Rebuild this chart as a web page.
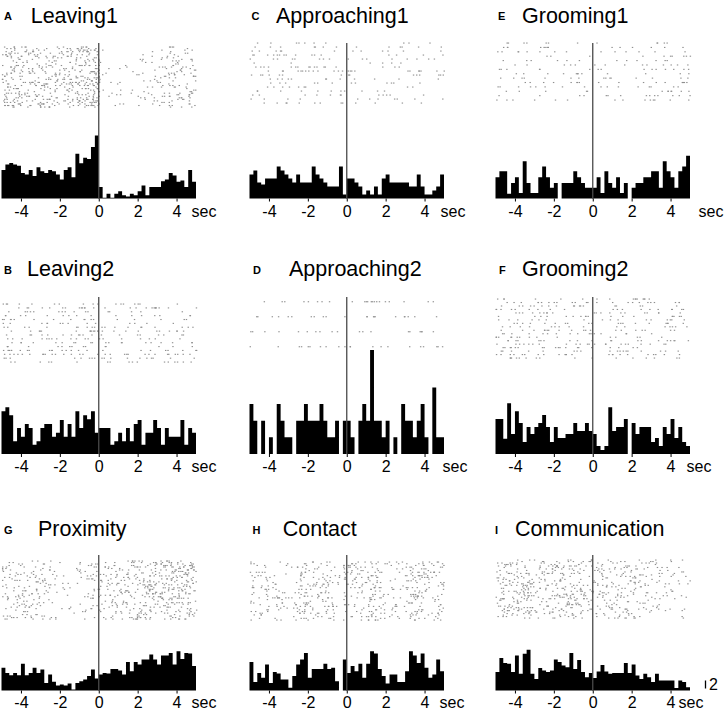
<!DOCTYPE html>
<html>
<head>
<meta charset="utf-8">
<script src="https://cdn.jsdelivr.net/npm/d3@7"></script>
<style>
  body { margin: 0; background: #fff; }
  svg { display: block; }
  text { font-family: "Liberation Sans", Arial, sans-serif; }
</style>
</head>
<body>
<div id="wrapper"></div>
<script>
// panel letters / titles, in the order A..I
const panelLetters = ["A", "B", "C", "D", "E", "F", "G", "H", "I"];
const panelTitles = ["Leaving1", "Leaving2", "Approaching1", "Approaching2",
  "Grooming1", "Grooming2", "Proximity", "Contact", "Communication"];
const tickValues = [-4, -2, 0, 2, 4];
const timeRange = [-5, 5];
const binWidth = 0.2; // sec
const scaleBarValue = 2;
// number of trials in each raster
const trialCounts = [40, 16, 16, 4, 14, 18, 40, 35, 40];

// PSTH values (50 bins of 0.2 s, -5..5 s)
const leaving1 = [7.1, 8.5, 8.9, 8.5, 8.2, 6.4, 6.0, 7.1, 5.6, 7.8,
  6.8, 6.4, 7.1, 6.8, 6.0, 4.75, 7.1, 7.8, 5.3, 11.2,
  8.8, 10.2, 9.9, 12.9, 15.75, 2.9, 0.2, 1.2, 0.2, 1.2,
  1.8, 0.8, 0.5, 1.2, 0.8, 1.8, 3.25, 0.8, 2.9, 2.9,
  2.9, 4.3, 4.75, 6.4, 5.75, 4.2, 4.5, 2.9, 7.1, 4.2];
const leaving2 = [10.7, 11.7, 9.7, 3.2, 6.5, 4.3, 7.5, 6.5, 2.3, 3.2,
  6.5, 7.5, 7.5, 4.3, 5.3, 8.5, 4.3, 7.5, 4.3, 10.7,
  6.5, 9.7, 8.7, 10.7, 5.3, 6.5, 6.5, 6.5, 2.3, 3.2,
  5.3, 3.2, 6.5, 3.2, 7.5, 8.5, 2.3, 5.3, 5.3, 8.5,
  6.5, 2.3, 6.5, 4.3, 4.3, 4.3, 8.5, 2.3, 6.5, 5.3];
const approaching1 = [6, 7, 4, 3.5, 5, 5, 5, 8, 7, 6,
  5, 4, 6, 4, 4, 4, 8, 6, 5, 4,
  3, 3, 3, 8, 1, 5, 5, 4, 3, 1,
  2, 1, 3, 1, 5, 6, 4, 4, 4, 4,
  4, 3, 3, 6, 3, 1, 1, 2, 3, 6];
const approaching2 = [12.5, 8.3, 0, 8.3, 0, 4.2, 0, 12.5, 8.3, 4.2,
  4.2, 0, 8.3, 8.3, 12.5, 8.3, 8.3, 8.3, 12.5, 8.3,
  4.2, 4.2, 8.3, 0, 8.3, 8.3, 4.2, 0, 8.3, 12.5,
  8.3, 26, 8.3, 8.3, 4.2, 8.3, 0, 4.2, 0, 12.5,
  8.3, 8.3, 4.2, 8.3, 12.5, 4.2, 0, 16.6, 4.2, 4.2];
const grooming1 = [5.3, 6.8, 6.8, 1.2, 3.9, 5.3, 1.4, 9.3, 3.9, 1.4,
  1.4, 5.3, 8, 5.3, 2.7, 3.9, 0, 3.9, 3.9, 3.9,
  6.8, 5.3, 3.9, 2.7, 2.7, 2.7, 5.3, 1.4, 6.8, 3.9,
  2.7, 5.3, 1.4, 3.9, 0, 2.7, 3.9, 3.9, 5.3, 5.3,
  6.8, 6.8, 2.7, 9.3, 6.8, 5.3, 2.7, 6.8, 8, 10.7];
const grooming2 = [8.75, 8.75, 3.8, 12.7, 5, 10.7, 7.75, 3, 6.75, 5,
  6.75, 7.75, 9.75, 6.75, 3, 6.75, 4, 4, 5, 5,
  7.75, 5.75, 5.75, 7.75, 5.75, 5, 2, 1, 2, 11.7,
  5.75, 6.75, 6.75, 8.75, 0, 7.75, 5, 6.75, 6.75, 6.75,
  3, 4, 2, 6.75, 5, 8.75, 4, 6.75, 3, 2];
const proximity = [5.7, 4.4, 3.8, 4.4, 3.8, 6.7, 3.8, 4.4, 5.7, 4.4,
  5.25, 1.9, 4, 2.2, 1.25, 1.5, 1.25, 1.75, 0.25, 1.9,
  2.3, 2.75, 3.6, 5.25, 3, 4, 4.4, 4.25, 5.4, 5.4,
  5, 4, 7.1, 4.8, 7.1, 6.5, 7.75, 7.75, 9, 7.75,
  6.5, 8.75, 8.75, 9.4, 6.5, 9.8, 7.9, 9.4, 9.25, 6.1];
const contact = [7.1, 2.1, 4.4, 3.2, 6.5, 1.9, 4.6, 4.25, 2.75, 2.75,
  0.7, 3.6, 6.5, 7.75, 9.4, 3.2, 5.4, 5.4, 5.4, 6.7,
  5.4, 5.7, 2.3, 0, 7.75, 4.4, 6.1, 4.8, 6.7, 3.2,
  6.7, 9.8, 9.25, 5.4, 3.6, 1.75, 4, 4, 2.1, 2.1,
  4.8, 9.8, 8.75, 6.9, 9.25, 5.7, 3.2, 4, 7.75, 4.8];
const communication = [4.6, 8.1, 6.9, 6.7, 4.6, 8.75, 4.2, 9.2, 10.2, 4.2,
  2.9, 5.6, 5, 4.6, 5, 7.75, 7.1, 6.25, 5.8, 9.4,
  5.4, 7.6, 4.6, 3.3, 4.4, 3.1, 4.75, 6.4, 4.75, 4.2,
  4.4, 4.4, 4.4, 6.9, 4.4, 6.5, 3.75, 2.9, 4.2, 3.3,
  2.1, 4.2, 2.5, 2.5, 2.5, 2.5, 0.6, 2.5, 2.1, 0.8];

const panelValues = [leaving1, leaving2, approaching1, approaching2,
  grooming1, grooming2, proximity, contact, communication];

// fixed scatter of a spike inside its bin / trial (no randomness, same every run)
function spread(a, b, c) {
  const s = Math.sin(a * 12.9898 + b * 78.233 + c * 37.719) * 43758.5453;
  return s - Math.floor(s);
}

function drawPanels() {
  //1. Dimensions of the page and of each panel
  let dimensions = {
    width: 725,
    height: 712,
    panelWidth: 194.5,
    pxPerUnit: 4,
  };
  const colX = [1.5, 249.5, 495.5];
  const rowBase = [198.5, 454, 690.5];
  const rowTitle = [22.7, 276, 536];
  const rowLineTop = [43, 297, 555];

  // col, row, raster top/bottom, letter x, title x, "sec" offset
  const layout = [
    { col: 0, row: 0, r0: 47, r1: 107, lx: 4, tx: 30.7, sec: 15 },
    { col: 0, row: 1, r0: 304, r1: 362, lx: 4, tx: 27, sec: 15 },
    { col: 1, row: 0, r0: 43, r1: 103, lx: 251.5, tx: 276, sec: 16 },
    { col: 1, row: 1, r0: 301.7, r1: 346.7, lx: 253, tx: 289, sec: 18 },
    { col: 2, row: 0, r0: 43, r1: 100, lx: 498, tx: 522, sec: 28 },
    { col: 2, row: 1, r0: 299, r1: 358, lx: 499, tx: 522, sec: 16 },
    { col: 0, row: 2, r0: 561, r1: 619, lx: 4, tx: 38, sec: 15 },
    { col: 1, row: 2, r0: 562, r1: 620, lx: 252.5, tx: 282.7, sec: 15 },
    { col: 2, row: 2, r0: 560, r1: 618, lx: 495, tx: 515, sec: 8 },
  ];

  //2. Draw canvas
  const wrapper = d3
    .select("#wrapper")
    .append("svg")
    .attr("width", dimensions.width)
    .attr("height", dimensions.height);

  const edges = d3.range(panelValues[0].length + 1).map((i) => timeRange[0] + i * binWidth);

  panelValues.forEach((values, p) => {
    const lay = layout[p];
    const base = rowBase[lay.row];
    const labelY = lay.row === 2 ? base + 17.5 : base + 18.4;
    const g = wrapper.append("g");

    //3. Scales
    const xScale = d3
      .scaleLinear()
      .domain(timeRange)
      .range([colX[lay.col], colX[lay.col] + dimensions.panelWidth]);
    const yScale = d3
      .scaleLinear()
      .domain([0, 30])
      .range([base, base - 30 * dimensions.pxPerUnit]);

    //4. Title
    g.append("text")
      .attr("x", lay.lx)
      .attr("y", rowTitle[lay.row] - 2.5)
      .style("font-size", "11px")
      .style("font-weight", "bold")
      .text(panelLetters[p]);
    g.append("text")
      .attr("x", lay.tx)
      .attr("y", rowTitle[lay.row])
      .style("font-size", "21.5px")
      .text(panelTitles[p]);

    //5. Raster (spikes per bin follow the histogram value)
    const nTrials = trialCounts[p];
    const rowStep = (lay.r1 - lay.r0) / Math.max(1, nTrials - 1);
    const dots = [];
    values.forEach((v, b) => {
      const nSpikes = Math.round((v * nTrials) / 16);
      for (let k = 0; k < nSpikes; k++) {
        const u = spread(k + 1, b + 1, p + 1);
        const w = spread(b + 3.1, k + 7.7, p + 0.5);
        dots.push({ t: edges[b] + u * binWidth, trial: Math.min(nTrials - 1, Math.floor(w * nTrials)) });
      }
    });
    g.append("g")
      .selectAll("rect")
      .data(dots)
      .enter()
      .append("rect")
      .attr("x", (d) => xScale(d.t))
      .attr("y", (d) => lay.r0 + d.trial * rowStep - 0.5)
      .attr("width", 1.4)
      .attr("height", 1.1)
      .attr("fill", "#8f8f8f");

    //6. Histogram as one stepped area
    const stepData = values.concat([values[values.length - 1]]);
    const areaGenerator = d3
      .area()
      .curve(d3.curveStepAfter)
      .x((d, i) => xScale(edges[i]))
      .y0(base)
      .y1((d) => yScale(d));
    g.append("path")
      .attr("d", areaGenerator(stepData))
      .attr("fill", "#000");

    //7. Line at time zero
    g.append("line")
      .attr("x1", xScale(0))
      .attr("x2", xScale(0))
      .attr("y1", rowLineTop[lay.row])
      .attr("y2", base)
      .attr("stroke", "#4a4a4a")
      .attr("stroke-width", 1.3);

    //8. X axis: ticks and labels only, no domain line
    const xAxisGenerator = d3
      .axisBottom()
      .scale(xScale)
      .tickValues(tickValues)
      .tickSize(3)
      .tickFormat((d) => String(d));
    const xAxis = g
      .append("g")
      .call(xAxisGenerator)
      .style("transform", `translateY(${base}px)`);
    xAxis.select(".domain").remove();
    xAxis.selectAll("line").attr("stroke", "#000");
    xAxis
      .selectAll("text")
      .attr("y", labelY - base)
      .attr("dy", null)
      .attr("fill", "#000")
      .style("font-size", "16px")
      .style("font-family", '"Liberation Sans", Arial, sans-serif');

    g.append("text")
      .attr("x", xScale(4) + lay.sec)
      .attr("y", labelY)
      .style("font-size", "16px")
      .text("sec");

    //9. Scale bar in the last panel
    if (p === panelValues.length - 1) {
      const barX = 705.5;
      const barBottom = base - 2;
      g.append("line")
        .attr("x1", barX)
        .attr("x2", barX)
        .attr("y1", barBottom)
        .attr("y2", barBottom - (yScale(0) - yScale(scaleBarValue)))
        .attr("stroke", "#000")
        .attr("stroke-width", 1.3);
      g.append("text")
        .attr("x", barX + 3.5)
        .attr("y", barBottom + 1)
        .style("font-size", "16px")
        .text(scaleBarValue);
    }
  });
}

drawPanels();
</script>
</body>
</html>
